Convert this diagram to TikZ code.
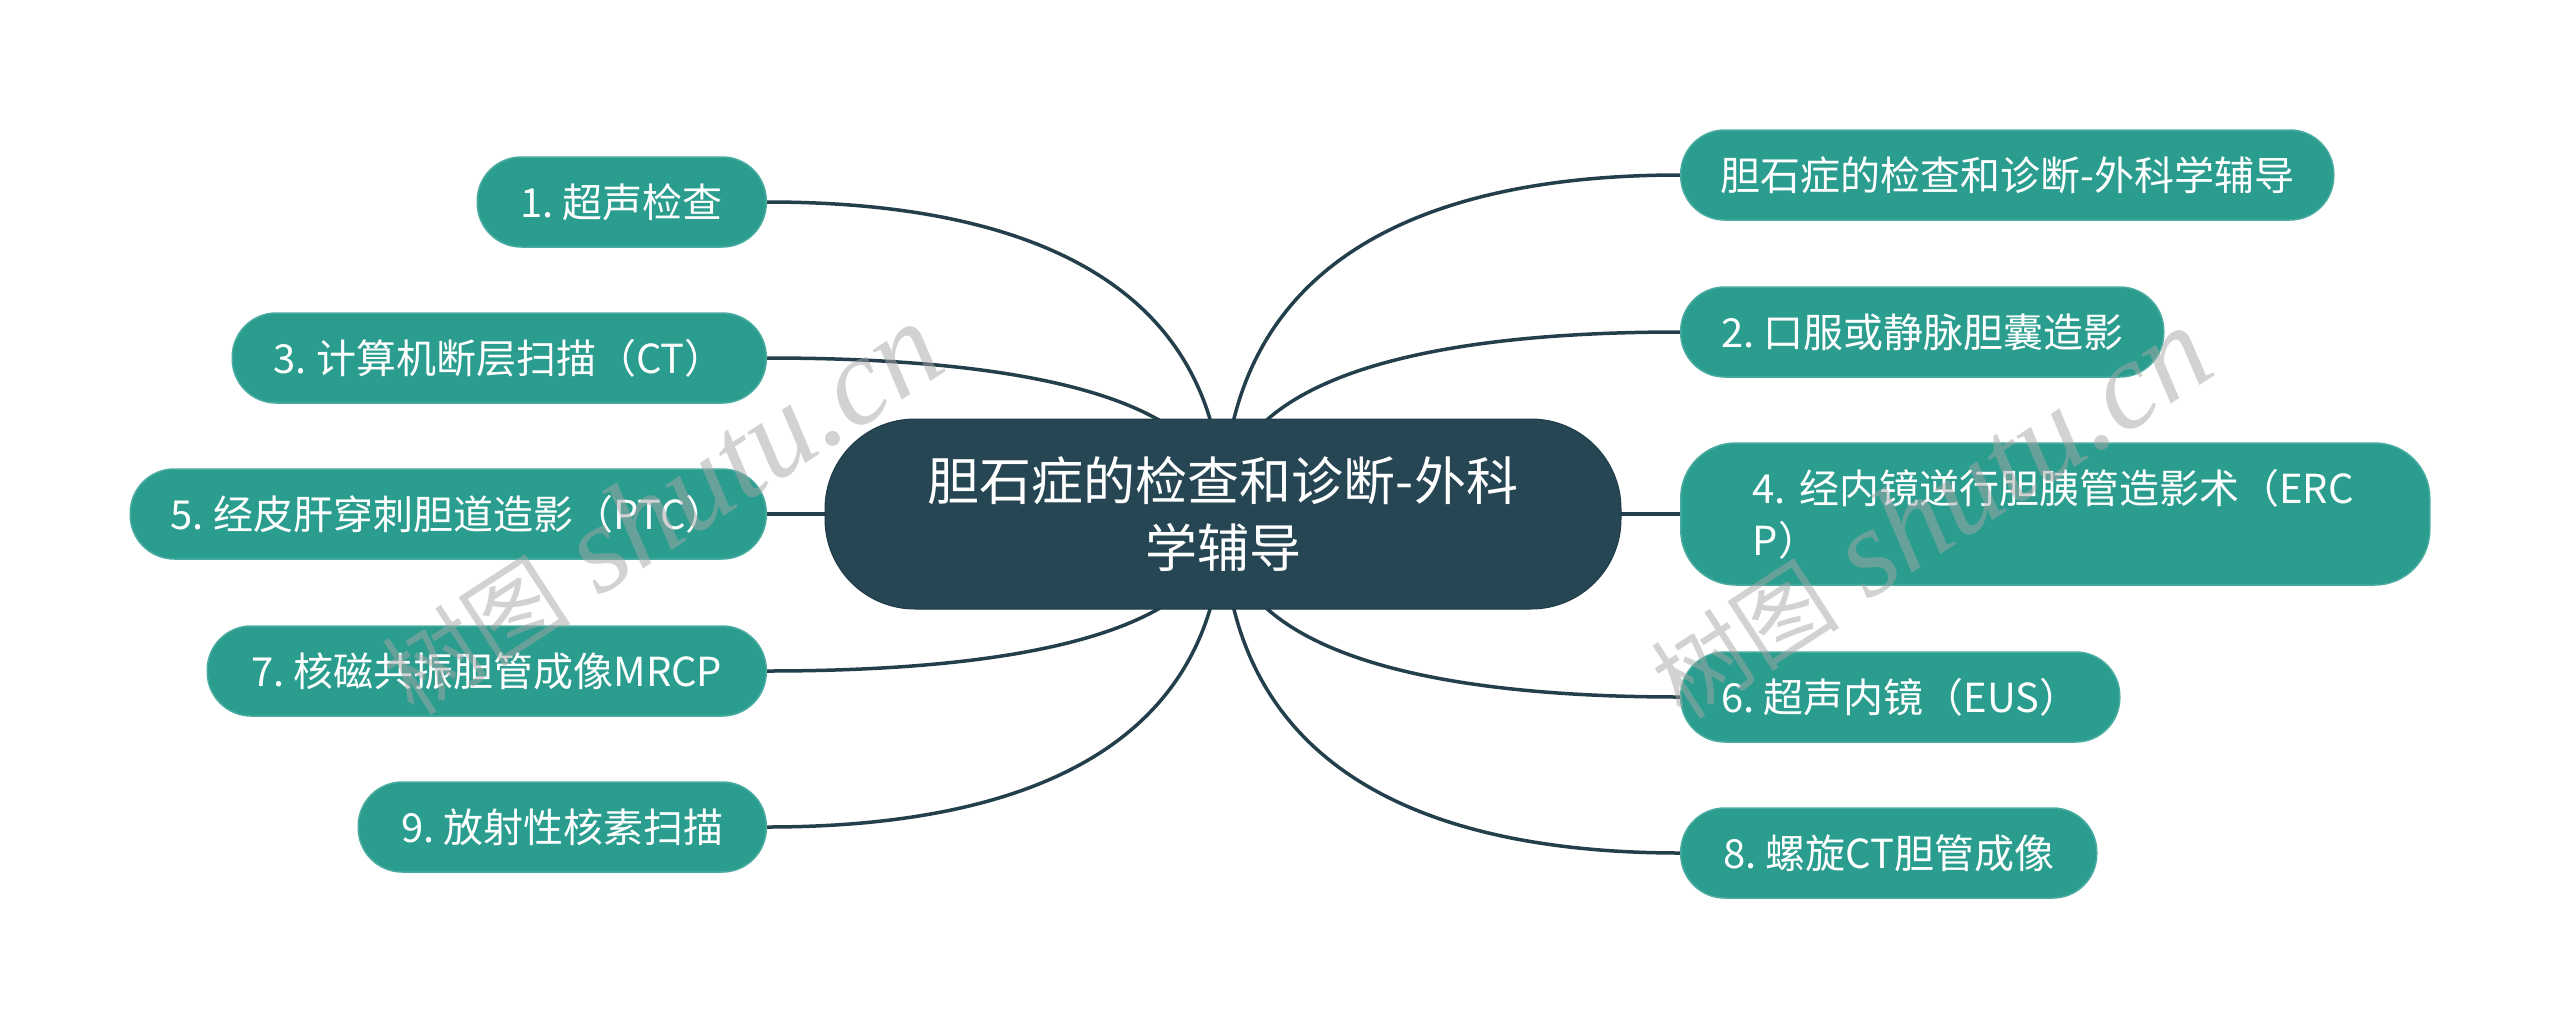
\documentclass[tikz,border=0pt]{standalone}
\usepackage{fontspec}
\newfontfamily\cjk{Noto Sans CJK SC}
\newfontfamily\wmserif{Liberation Serif}
\usetikzlibrary{calc,backgrounds}
\definecolor{rootc}{HTML}{264653}
\definecolor{childc}{HTML}{2A9D8F}
\definecolor{edgec}{HTML}{223F4B}
\begin{document}
\begin{tikzpicture}[x=1pt,y=-1pt]
\tikzset{
  rootbox/.style={fill=rootc, draw=rootc!85!black, line width=1pt, rounded corners=90pt,
    minimum width=796pt, minimum height=190pt, text=white,
    font=\cjk\fontsize{52}{67}\selectfont\frenchspacing, align=center, inner sep=0pt},
  childbox/.style={fill=childc, draw=childc!85!white, line width=1.5pt, rounded corners=44pt,
    minimum height=90pt, text=white, font=\cjk\fontsize{40}{52}\selectfont\frenchspacing, inner sep=0pt},
  link/.style={draw=edgec, line width=3.5pt},
  curvy/.style={to path={ .. controls ($(\tikztostart)!0.8!(\tikztostart |- \tikztotarget)$)
      and ($(\tikztostart |- \tikztotarget)!0.5!(\tikztotarget)$) .. (\tikztotarget)}},
  watermark/.style={rotate=33, text=black!35, opacity=0.5, inner sep=0pt},
}
\useasboundingbox (0,0) rectangle (2560,1029);

% root
\node[rootbox] (root) at (1223,514) {胆石症的检查和诊断-外科\\学辅导};

% left children
\node[childbox, minimum width=289pt, anchor=east] (n1) at (767,202) {1. 超声检查};
\node[childbox, minimum width=534pt, anchor=east] (n3) at (767,358) {3. 计算机断层扫描（CT）};
\node[childbox, minimum width=636pt, anchor=east] (n5) at (767,514) {5. 经皮肝穿刺胆道造影（PTC）};
\node[childbox, minimum width=559pt, anchor=east] (n7) at (767,671) {7. 核磁共振胆管成像MRCP};
\node[childbox, minimum width=408pt, anchor=east] (n9) at (767,827) {9. 放射性核素扫描};

% right children
\node[childbox, minimum width=653pt, anchor=west] (t0) at (1680,175) {胆石症的检查和诊断-外科学辅导};
\node[childbox, minimum width=483pt, anchor=west] (n2) at (1680,332) {2. 口服或静脉胆囊造影};
\node[childbox, minimum width=749pt, minimum height=142pt, rounded corners=55pt, anchor=west,
      text width=605pt, align=left] (n4) at (1680,514) {4. 经内镜逆行胆胰管造影术（ERC\\P）};
\node[childbox, minimum width=439pt, anchor=west] (n6) at (1680,697) {6. 超声内镜（EUS）};
\node[childbox, minimum width=416pt, anchor=west] (n8) at (1680,853) {8. 螺旋CT胆管成像};

% connectors (behind the nodes)
\begin{scope}[on background layer]
  \fill[white] (0,0) rectangle (2560,1029);
  \draw[link] (root.center) to[curvy] (n1.east);
  \draw[link] (root.center) to[curvy] (n3.east);
  \draw[link] (root.center) -- (n5.east);
  \draw[link] (root.center) to[curvy] (n7.east);
  \draw[link] (root.center) to[curvy] (n9.east);
  \draw[link] (root.center) to[curvy] (t0.west);
  \draw[link] (root.center) to[curvy] (n2.west);
  \draw[link] (root.center) -- (n4.west);
  \draw[link] (root.center) to[curvy] (n6.west);
  \draw[link] (root.center) to[curvy] (n8.west);
\end{scope}

% watermarks
\node[watermark] (wm1) at (661,510) {{\cjk\fontsize{95}{95}\selectfont 树图}\hspace{30pt}{\wmserif\itshape\fontsize{125}{125}\selectfont shutu.cn}};
\node[watermark] (wm2) at (1930,514) {{\cjk\fontsize{95}{95}\selectfont 树图}\hspace{30pt}{\wmserif\itshape\fontsize{125}{125}\selectfont shutu.cn}};
\end{tikzpicture}
\end{document}
